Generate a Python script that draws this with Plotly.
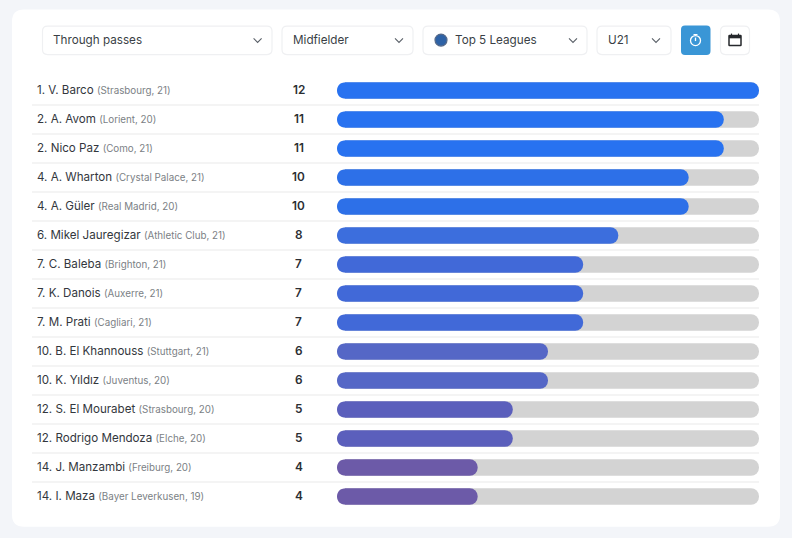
import plotly.graph_objects as go

ranks = [1, 2, 2, 4, 4, 6, 7, 7, 7, 10, 10, 12, 12, 14, 14]
players = ["V. Barco", "A. Avom", "Nico Paz", "A. Wharton", "A. Güler", "Mikel Jauregizar",
           "C. Baleba", "K. Danois", "M. Prati", "B. El Khannouss", "K. Yıldız",
           "S. El Mourabet", "Rodrigo Mendoza", "J. Manzambi", "I. Maza"]
clubs = ["Strasbourg", "Lorient", "Como", "Crystal Palace", "Real Madrid", "Athletic Club",
         "Brighton", "Auxerre", "Cagliari", "Stuttgart", "Juventus",
         "Strasbourg", "Elche", "Freiburg", "Bayer Leverkusen"]
ages = [21, 20, 21, 21, 20, 21, 21, 21, 21, 21, 20, 20, 20, 20, 19]
values = [12, 11, 11, 10, 10, 8, 7, 7, 7, 6, 6, 5, 5, 4, 4]
bar_colors = ["#2872F0", "#2872F0", "#2872F0", "#2D70E8", "#2D70E8", "#3C6EDD", "#4169D8", "#4169D8",
              "#4169D8", "#5567C6", "#5567C6", "#5B5FBC", "#5B5FBC", "#6C5AA8", "#6C5AA8"]
track = [max(values)] * len(values)
dropdowns = ["Through passes", "Midfielder", "Top 5 Leagues", "U21"]

W, H = 792, 538
L, R, T, B = 337, 759, 75.5, 511.25
PW, PH = R - L, B - T
BARGAP = 0.43
RADIUS = 8


def px(x):
    return (x - L) / PW


def py(y):
    return 1 - (y - T) / PH


def rrect(x0, y0, x1, y1, r):
    a, b, c, d = px(x0), px(x1), py(y0), py(y1)
    rx, ry = r / PW, r / PH
    return (f"M{a+rx},{c} L{b-rx},{c} Q{b},{c} {b},{c-ry} L{b},{d+ry} Q{b},{d} {b-rx},{d} "
            f"L{a+rx},{d} Q{a},{d} {a},{d+ry} L{a},{c-ry} Q{a},{c} {a+rx},{c} Z")


def path(d, fill="rgba(0,0,0,0)", line="rgba(0,0,0,0)", width=1, layer="below"):
    return dict(type="path", xref="paper", yref="paper", path=d, fillcolor=fill,
                line=dict(color=line, width=width), layer=layer)


def chevron(cx, cy):
    return path(f"M{px(cx-4)},{py(cy-2)} L{px(cx)},{py(cy+2)} L{px(cx+4)},{py(cy-2)}",
                line="#5A6068", width=1.1, layer="above")


def circle(cx, cy, r, fill, line, width):
    return dict(type="circle", xref="paper", yref="paper", x0=px(cx - r), x1=px(cx + r),
                y0=py(cy + r), y1=py(cy - r), fillcolor=fill, line=dict(color=line, width=width),
                layer="above")


def seg(x0, y0, x1, y1, color, width):
    return dict(type="line", xref="paper", yref="paper", x0=px(x0), x1=px(x1), y0=py(y0), y1=py(y1),
                line=dict(color=color, width=width), layer="above")


shapes = [path(rrect(12, 9, 780, 527, 12), fill="#FFFFFF")]
BORDER = "#EFF0F2"
for x0, x1 in [(42.5, 272), (282, 413), (423, 587), (597, 671), (720.5, 749.5)]:
    shapes.append(path(rrect(x0, 25.5, x1, 54, 5), fill="#FFFFFF", line=BORDER, width=1.2))
shapes.append(path(rrect(681, 25, 710.5, 54.5, 4), fill="#3A96D6"))
for cx in [257.6, 399, 573, 656]:
    shapes.append(chevron(cx, 39.8))
shapes.append(circle(441, 39.5, 6, "#2E62A6", "#54698A", 1.2))
# stopwatch icon
shapes.append(circle(695.5, 40, 5, "rgba(0,0,0,0)", "#FFFFFF", 1.3))
shapes.append(seg(695.5, 37, 695.5, 40.5, "#FFFFFF", 1.3))
shapes.append(seg(693.5, 34, 697.5, 34, "#FFFFFF", 1.1))
# calendar icon
shapes.append(path(rrect(729, 35, 741, 45, 0.5), line="#26282C", width=1.5, layer="above"))
shapes.append(seg(729, 36.5, 741, 36.5, "#26282C", 2.5))
shapes.append(seg(731.5, 33, 731.5, 35, "#26282C", 1.2))
shapes.append(seg(738.5, 33, 738.5, 35, "#26282C", 1.2))
# row separators
n = len(values)
ROW = PH / n
for i in range(1, n):
    y = T + i * ROW
    shapes.append(seg(32, y, 759, y, "#E9E9E9", 1))
# plotly rounds only a bar's far end: white corner masks round the near end
half = ROW * (1 - BARGAP) / 2
for i in range(n):
    yc = T + (i + 0.5) * ROW
    for s in (-1, 1):
        e = yc + s * half
        d = (f"M{px(L-0.6)},{py(e + s*0.6)} L{px(L+RADIUS)},{py(e + s*0.6)} L{px(L+RADIUS)},{py(e)} "
             f"C{px(L+3.6)},{py(e)} {px(L)},{py(e - s*3.6)} {px(L)},{py(e - s*RADIUS)} "
             f"L{px(L-0.6)},{py(e - s*RADIUS)} Z")
        shapes.append(path(d, fill="#FFFFFF", width=0, layer="above"))

annotations = []
for label, x in zip(dropdowns, [50.5, 291, 453, 606]):
    annotations.append(dict(xref="paper", yref="paper", x=px(x), y=py(39.5), text=label, showarrow=False,
                            xanchor="left", yanchor="middle", yshift=0.5,
                            font=dict(size=11.7, color="#3A3F46")))
for r, p, c, a, v in zip(ranks, players, clubs, ages, values):
    annotations.append(dict(
        xref="paper", yref="y", x=px(34.8), y=p, showarrow=False, xanchor="left", yanchor="middle", yshift=0.5,
        text=f"{r}. {p} <span style='font-size:9.8px;color:#7B7F85'>({c}, {a})</span>",
        font=dict(size=11.6, color="#33373D")))
    annotations.append(dict(
        xref="paper", yref="y", x=px(298.5), y=p, showarrow=False, xanchor="center", yanchor="middle", yshift=0.5,
        text=str(v), font=dict(size=11.8, color="#2B2E33", weight=600)))

fig = go.Figure()
fig.add_bar(y=players, x=track, orientation="h", xaxis="x", yaxis="y",
            marker=dict(color="#D3D3D3", line_width=0, cornerradius=RADIUS),
            hoverinfo="skip", showlegend=False)
fig.add_bar(y=players, x=values, orientation="h", xaxis="x2", yaxis="y2",
            marker=dict(color=bar_colors, line_width=0, cornerradius=RADIUS),
            showlegend=False)
axis_x = dict(range=[0, max(values)], visible=False, fixedrange=True)
axis_y = dict(categoryorder="array", categoryarray=players, autorange="reversed", visible=False,
              fixedrange=True)
fig.update_layout(
    width=W, height=H, autosize=False,
    margin=dict(l=L, r=W - R, t=T, b=H - B, pad=0),
    paper_bgcolor="#F3F5F9", plot_bgcolor="rgba(0,0,0,0)",
    barmode="overlay", bargap=BARGAP,
    font=dict(family="Inter, 'Noto Sans', sans-serif"),
    xaxis=axis_x, yaxis=axis_y,
    xaxis2=dict(axis_x, overlaying="x", anchor="y2"),
    yaxis2=dict(axis_y, overlaying="y", anchor="x2"),
    shapes=shapes, annotations=annotations,
)
fig.write_html("out.html", config=dict(displayModeBar=False),
               post_script="document.body.style.margin='0';")
